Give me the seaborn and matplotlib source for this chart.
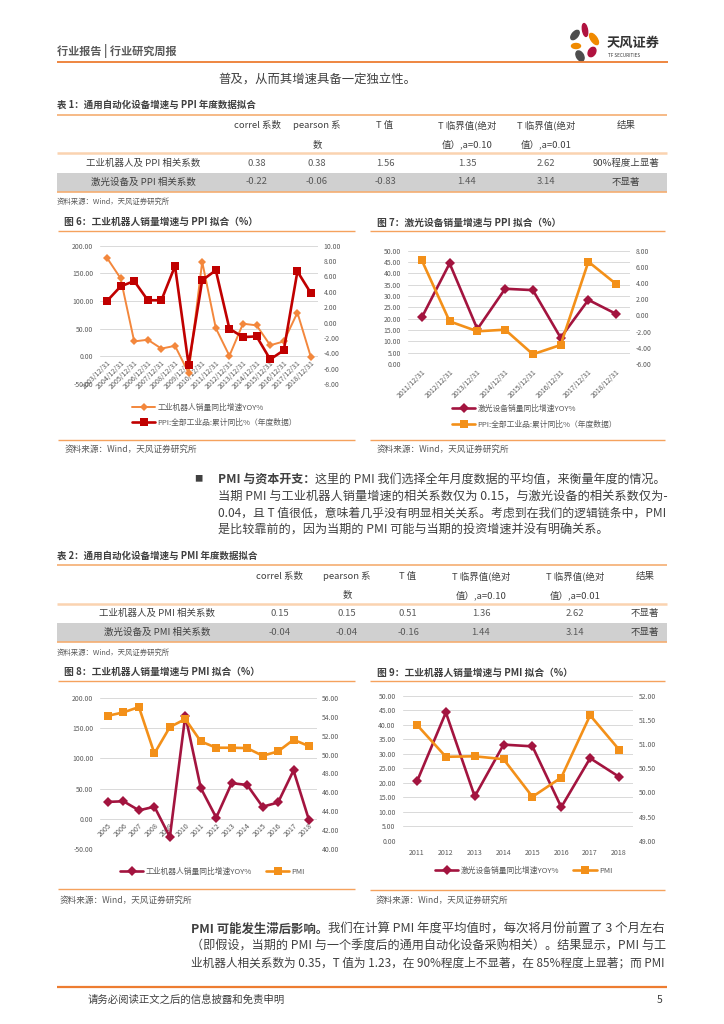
import numpy as np
import pandas as pd
import seaborn as sns
import matplotlib.pyplot as plt
from matplotlib.patches import Rectangle, Ellipse

# ---- données ----
years_6 = ['2003/12/31', '2004/12/31', '2005/12/31', '2006/12/31', '2007/12/31', '2008/12/31',
           '2009/12/31', '2010/12/31', '2011/12/31', '2012/12/31', '2013/12/31', '2014/12/31',
           '2015/12/31', '2016/12/31', '2017/12/31', '2018/12/31']
robot_6 = [178, 141, 27, 30, 14, 19, -30, 171, 51, 1, 59, 56, 20, 27, 79, -2]
ppi_6 = [2.8, 4.7, 5.4, 2.9, 2.9, 7.35, -5.5, 5.5, 6.8, -0.8, -1.9, -1.8, -4.8, -3.6, 6.65, 3.8]

years_7 = ['2011/12/31', '2012/12/31', '2013/12/31', '2014/12/31',
           '2015/12/31', '2016/12/31', '2017/12/31', '2018/12/31']
laser_7 = [20.6, 44.4, 15.4, 33.2, 32.6, 11.6, 28.3, 22.1]
ppi_7 = [6.8, -0.73, -1.96, -1.76, -4.8, -3.65, 6.64, 3.88]

years_8 = ['2005', '2006', '2007', '2008', '2009', '2010', '2011', '2012',
           '2013', '2014', '2015', '2016', '2017', '2018']
robot_8 = [28, 29, 14, 20, -30, 171, 51, 2, 59, 56, 20, 27, 80, -2]
pmi_8 = [54.12, 54.48, 55.04, 50.12, 52.92, 53.77, 51.4, 50.73, 50.73, 50.69, 49.88, 50.34, 51.58, 50.9]

years_9 = ['2011', '2012', '2013', '2014', '2015', '2016', '2017', '2018']
laser_9 = [20.5, 44.3, 15.3, 33.2, 32.6, 11.6, 28.5, 22.1]
pmi_9 = [51.40, 50.74, 50.75, 50.69, 49.91, 50.31, 51.60, 50.89]

tab_header1 = ['correl 系数', 'pearson 系', 'T 值', 'T 临界值(绝对', 'T 临界值(绝对', '结果']
tab_header2 = ['', '数', '', '值）,a=0.10', '值）,a=0.01', '']
tab1_labels = ['工业机器人及 PPI 相关系数', '激光设备及 PPI 相关系数']
tab1_values = [['0.38', '0.38', '1.56', '1.35', '2.62', '90%程度上显著'],
               ['-0.22', '-0.06', '-0.83', '1.44', '3.14', '不显著']]
tab2_labels = ['工业机器人及 PMI 相关系数', '激光设备及 PMI 相关系数']
tab2_values = [['0.15', '0.15', '0.51', '1.36', '2.62', '不显著'],
               ['-0.04', '-0.04', '-0.16', '1.44', '3.14', '不显著']]

lab_robot = '工业机器人销量同比增速YOY%'
lab_laser = '激光设备销量同比增速YOY%'
lab_ppi = 'PPI:全部工业品:累计同比%（年度数据）'
lab_pmi = 'PMI'

# ---- style ----
sns.set_theme(style='white')
plt.rcParams['font.family'] = ['Noto Sans CJK SC', 'DejaVu Sans']
plt.rcParams['axes.unicode_minus'] = False

W, H = 724, 1024
ORANGE = '#ED7D31'
LINE_OR = '#F5AE72'
TXT = '#404040'
GRAY = '#595959'

fig = plt.figure(figsize=(W / 100, H / 100), dpi=100)
fig.patch.set_facecolor('white')
page = fig.add_axes([0, 0, 1, 1])
page.set_xlim(0, W)
page.set_ylim(H, 0)
page.axis('off')


def px_axes(x0, y0, x1, y1):
    return fig.add_axes([x0 / W, 1 - y1 / H, (x1 - x0) / W, (y1 - y0) / H])


# ---- en-tête ----
page.text(57, 51, '行业报告 | 行业研究周报', fontsize=8, color=GRAY, fontweight='bold', va='center')
page.hlines(61.7, 57, 668, color=ORANGE, lw=1.3)
for (cx, cy, w, h, a, c) in [(575, 35, 6, 11, 40, '#4D4D4D'), (585, 30, 5, 13, -10, '#B0123F'),
                             (594, 39, 6, 13, -35, '#F08A00'), (576, 46, 9, 5, 0, '#F08A00'),
                             (592, 52, 7, 10, 30, '#B0123F'), (580, 56, 7, 11, -30, '#4D4D4D')]:
    page.add_patch(Ellipse((cx, cy), w, h, angle=a, color=c))
page.text(607, 43, '天风证券', fontsize=9.5, color='#333333', fontweight='bold', va='center')
page.text(608, 55.5, 'TF SECURITIES', fontsize=3.3, color='#333333', va='center')

page.text(218, 79, '普及，从而其增速具备一定独立性。', fontsize=8.9, color=TXT, va='center')


# ---- tableaux ----
def draw_table(t, title, labels, values, label_x, col_x):
    page.text(57, t, title, fontsize=6.8, fontweight='bold', color='#3F3F3F', va='center')
    page.hlines(t + 9.5, 57, 667, color=LINE_OR, lw=1.2)
    for i, x in enumerate(col_x):
        page.text(x, t + 20.5, tab_header1[i], fontsize=6.8, color=TXT, ha='center', va='center')
        page.text(x, t + 39.5, tab_header2[i], fontsize=6.8, color=TXT, ha='center', va='center')
    page.hlines(t + 48, 57, 667, color='#FAD3B0', lw=1.8)
    page.add_patch(Rectangle((57, t + 67.5), 610, 19, color='#D0D0D0', lw=0))
    for r in range(2):
        y = t + 58 + r * 19
        page.text(label_x, y, labels[r], fontsize=6.8, color=TXT, ha='center', va='center')
        for i, x in enumerate(col_x):
            page.text(x, y, values[r][i], fontsize=6.8, color=GRAY if i < 5 else TXT,
                      ha='center', va='center')
    page.hlines(t + 86.5, 57, 667, color=LINE_OR, lw=1.2)
    page.text(57, t + 97, '资料来源：Wind，天风证券研究所', fontsize=5.3, color=GRAY, va='center')


draw_table(105, '表 1：通用自动化设备增速与 PPI 年度数据拟合', tab1_labels, tab1_values,
           143, [257, 317, 385, 467, 546, 626])
draw_table(555.5, '表 2：通用自动化设备增速与 PMI 年度数据拟合', tab2_labels, tab2_values,
           157, [280, 347, 408, 481, 575, 645])


# ---- graphiques ----
def draw_chart(box, cats, left, right, sty_l, sty_r, lim_l, ticks_l, lim_r, ticks_r,
               rotate, zero_axis, xpad):
    ax = px_axes(*box)
    df = pd.DataFrame({'pos': np.arange(len(cats)), 'left': left, 'right': right})
    sns.lineplot(data=df, x='pos', y='left', ax=ax, errorbar=None, legend=False,
                 markeredgewidth=0, clip_on=False, **sty_l)
    ax2 = ax.twinx()
    sns.lineplot(data=df, x='pos', y='right', ax=ax2, errorbar=None, legend=False,
                 markeredgewidth=0, clip_on=False, **sty_r)
    for a in (ax, ax2):
        a.set_xlabel('')
        a.set_ylabel('')
        for s in a.spines.values():
            s.set_visible(False)
    # l'axe des catégories croise à 0 (comme dans Excel)
    if zero_axis:
        ax.spines['bottom'].set_position(('data', 0))
    ax.set_xlim(-0.5, len(cats) - 0.5)
    ax.set_ylim(*lim_l)
    ax2.set_ylim(*lim_r)
    ax.set_yticks(ticks_l)
    ax.set_yticklabels([f'{v:.2f}' for v in ticks_l])
    ax2.set_yticks(ticks_r)
    ax2.set_yticklabels([f'{v:.2f}' for v in ticks_r])
    ax.set_xticks(df['pos'])
    if rotate:
        ax.set_xticklabels(cats, rotation=45, ha='right', rotation_mode='anchor')
    else:
        ax.set_xticklabels(cats)
    ax.yaxis.grid(True, color='#D9D9D9', lw=0.7)
    ax.xaxis.grid(False)
    ax.set_axisbelow(True)
    ax.tick_params(axis='y', length=0, pad=5, labelsize=4.9, labelcolor=GRAY)
    ax2.tick_params(axis='y', length=0, pad=4, labelsize=4.9, labelcolor=GRAY)
    ax.tick_params(axis='x', length=0, pad=xpad, labelsize=5.1, labelcolor=GRAY)
    return ax.lines[0], ax2.lines[0]


def legend(handles, labels, x, y, ncol):
    leg = page.legend(handles, labels, loc='upper left', bbox_to_anchor=(x, y),
                      bbox_transform=page.transData, frameon=False, fontsize=5.6, ncol=ncol,
                      handlelength=3, handletextpad=0.3, labelspacing=0.95, columnspacing=1.8,
                      borderpad=0, borderaxespad=0, labelcolor=GRAY)
    page.legend_ = None
    page.add_artist(leg)


def chart_frame(x0, x1, ttl_x, title, top, bottom, src_x, src_y):
    page.text(ttl_x, top - 8.5, title, fontsize=7, fontweight='bold', color='#3F3F3F', va='center')
    page.hlines(top, x0, x1, color='#F5A25D', lw=1)
    page.hlines(bottom, x0, x1, color='#F5A25D', lw=1)
    page.text(src_x, src_y, '资料来源：Wind，天风证券研究所', fontsize=6.2, color=GRAY, va='center')


C_OR6 = '#F3873C'
C_RED = '#C00000'
C_CRIM = '#A3143F'
C_OR = '#F39019'

# figure 6
chart_frame(58, 355, 64, '图 6：工业机器人销量增速与 PPI 拟合（%）', 230.5, 439.5, 65, 449)
h = draw_chart((100.2, 245.7, 317.8, 384), years_6, robot_6, ppi_6,
               dict(color=C_OR6, marker='D', markersize=4.2, linewidth=1.4),
               dict(color=C_RED, marker='s', markersize=5.5, linewidth=1.9),
               (-50, 200), [-50, 0, 50, 100, 150, 200], (-8, 10), list(range(-8, 11, 2)),
               True, True, 2)
legend(h, [lab_robot, lab_ppi], 132, 403.5, 1)

# figure 7
chart_frame(370, 665, 377, '图 7：激光设备销量增速与 PPI 拟合（%）', 231, 440, 377, 449)
h = draw_chart((408, 250.7, 630, 364), years_7, laser_7, ppi_7,
               dict(color=C_CRIM, marker='D', markersize=4.6, linewidth=1.9),
               dict(color=C_OR, marker='s', markersize=5.8, linewidth=1.9),
               (0, 50), list(range(0, 51, 5)), (-6, 8), list(range(-6, 9, 2)),
               True, False, 3)
legend(h, [lab_laser, lab_ppi], 452, 405, 1)

# figure 8
chart_frame(58, 355, 64, '图 8：工业机器人销量增速与 PMI 拟合（%）', 680.5, 889, 60, 900)
h = draw_chart((100.3, 698, 316.7, 849), years_8, robot_8, pmi_8,
               dict(color=C_CRIM, marker='D', markersize=4.6, linewidth=1.9),
               dict(color=C_OR, marker='s', markersize=5.8, linewidth=1.9),
               (-50, 200), [-50, 0, 50, 100, 150, 200], (40, 56), list(range(40, 57, 2)),
               True, True, 2)
legend(h, [lab_robot, lab_pmi], 120, 867.5, 2)

# figure 9
chart_frame(370, 665, 377, '图 9：工业机器人销量增速与 PMI 拟合（%）', 681, 890, 376, 900)
h = draw_chart((402.6, 696, 633.4, 840.7), years_9, laser_9, pmi_9,
               dict(color=C_CRIM, marker='D', markersize=4.6, linewidth=1.9),
               dict(color=C_OR, marker='s', markersize=5.8, linewidth=1.9),
               (0, 50), list(range(0, 51, 5)), (49, 52), [49, 49.5, 50, 50.5, 51, 51.5, 52],
               False, False, 6)
legend(h, [lab_laser, lab_pmi], 435, 866.5, 2)

# ---- texte courant (lignes justifiées à droite = 667) ----
renderer = fig.canvas.get_renderer()
inv = page.transData.inverted()


def rich_line(x, y, parts, size=8.9, right=None):
    texts = [page.text(x, y, txt, fontsize=size, fontweight=wt, color=TXT, va='center')
             for txt, wt in parts]

    def layout():
        cur = x
        for t in texts:
            t.set_x(cur)
            bb = t.get_window_extent(renderer=renderer)
            cur = inv.transform((bb.x1, bb.y0))[0]
        return cur

    end = layout()
    if right is not None:
        k = (right - x) / (end - x)
        for t in texts:
            t.set_fontsize(size * min(k, 1.03))
        layout()


page.text(198, 479, '■', fontsize=6, color=TXT, ha='center', va='center')
rich_line(218, 479, [('PMI 与资本开支：', 'bold'),
                     ('这里的 PMI 我们选择全年月度数据的平均值，来衡量年度的情况。', 'normal')], right=666)
rich_line(218, 496, [('当期 PMI 与工业机器人销量增速的相关系数仅为 0.15，与激光设备的相关系数仅为-', 'normal')], right=666)
rich_line(218, 513, [('0.04，且 T 值很低，意味着几乎没有明显相关关系。考虑到在我们的逻辑链条中，PMI', 'normal')], right=666)
rich_line(218, 530, [('是比较靠前的，因为当期的 PMI 可能与当期的投资增速并没有明确关系。', 'normal')], size=8.7)

rich_line(191, 929, [('PMI 可能发生滞后影响。', 'bold'),
                     ('我们在计算 PMI 年度平均值时，每次将月份前置了 3 个月左右', 'normal')], right=666)
rich_line(191, 946, [('（即假设，当期的 PMI 与一个季度后的通用自动化设备采购相关）。结果显示，PMI 与工', 'normal')], right=666)
rich_line(191, 963, [('业机器人相关系数为 0.35，T 值为 1.23，在 90%程度上不显著，在 85%程度上显著；而 PMI', 'normal')], right=666)

# ---- pied de page ----
page.hlines(987, 57, 667, color=ORANGE, lw=1.6)
page.text(88, 1000, '请务必阅读正文之后的信息披露和免责申明', fontsize=7.5, color=TXT, va='center')
page.text(662, 1000, '5', fontsize=7.5, color=TXT, ha='right', va='center')

plt.savefig('out.png', dpi=100)
